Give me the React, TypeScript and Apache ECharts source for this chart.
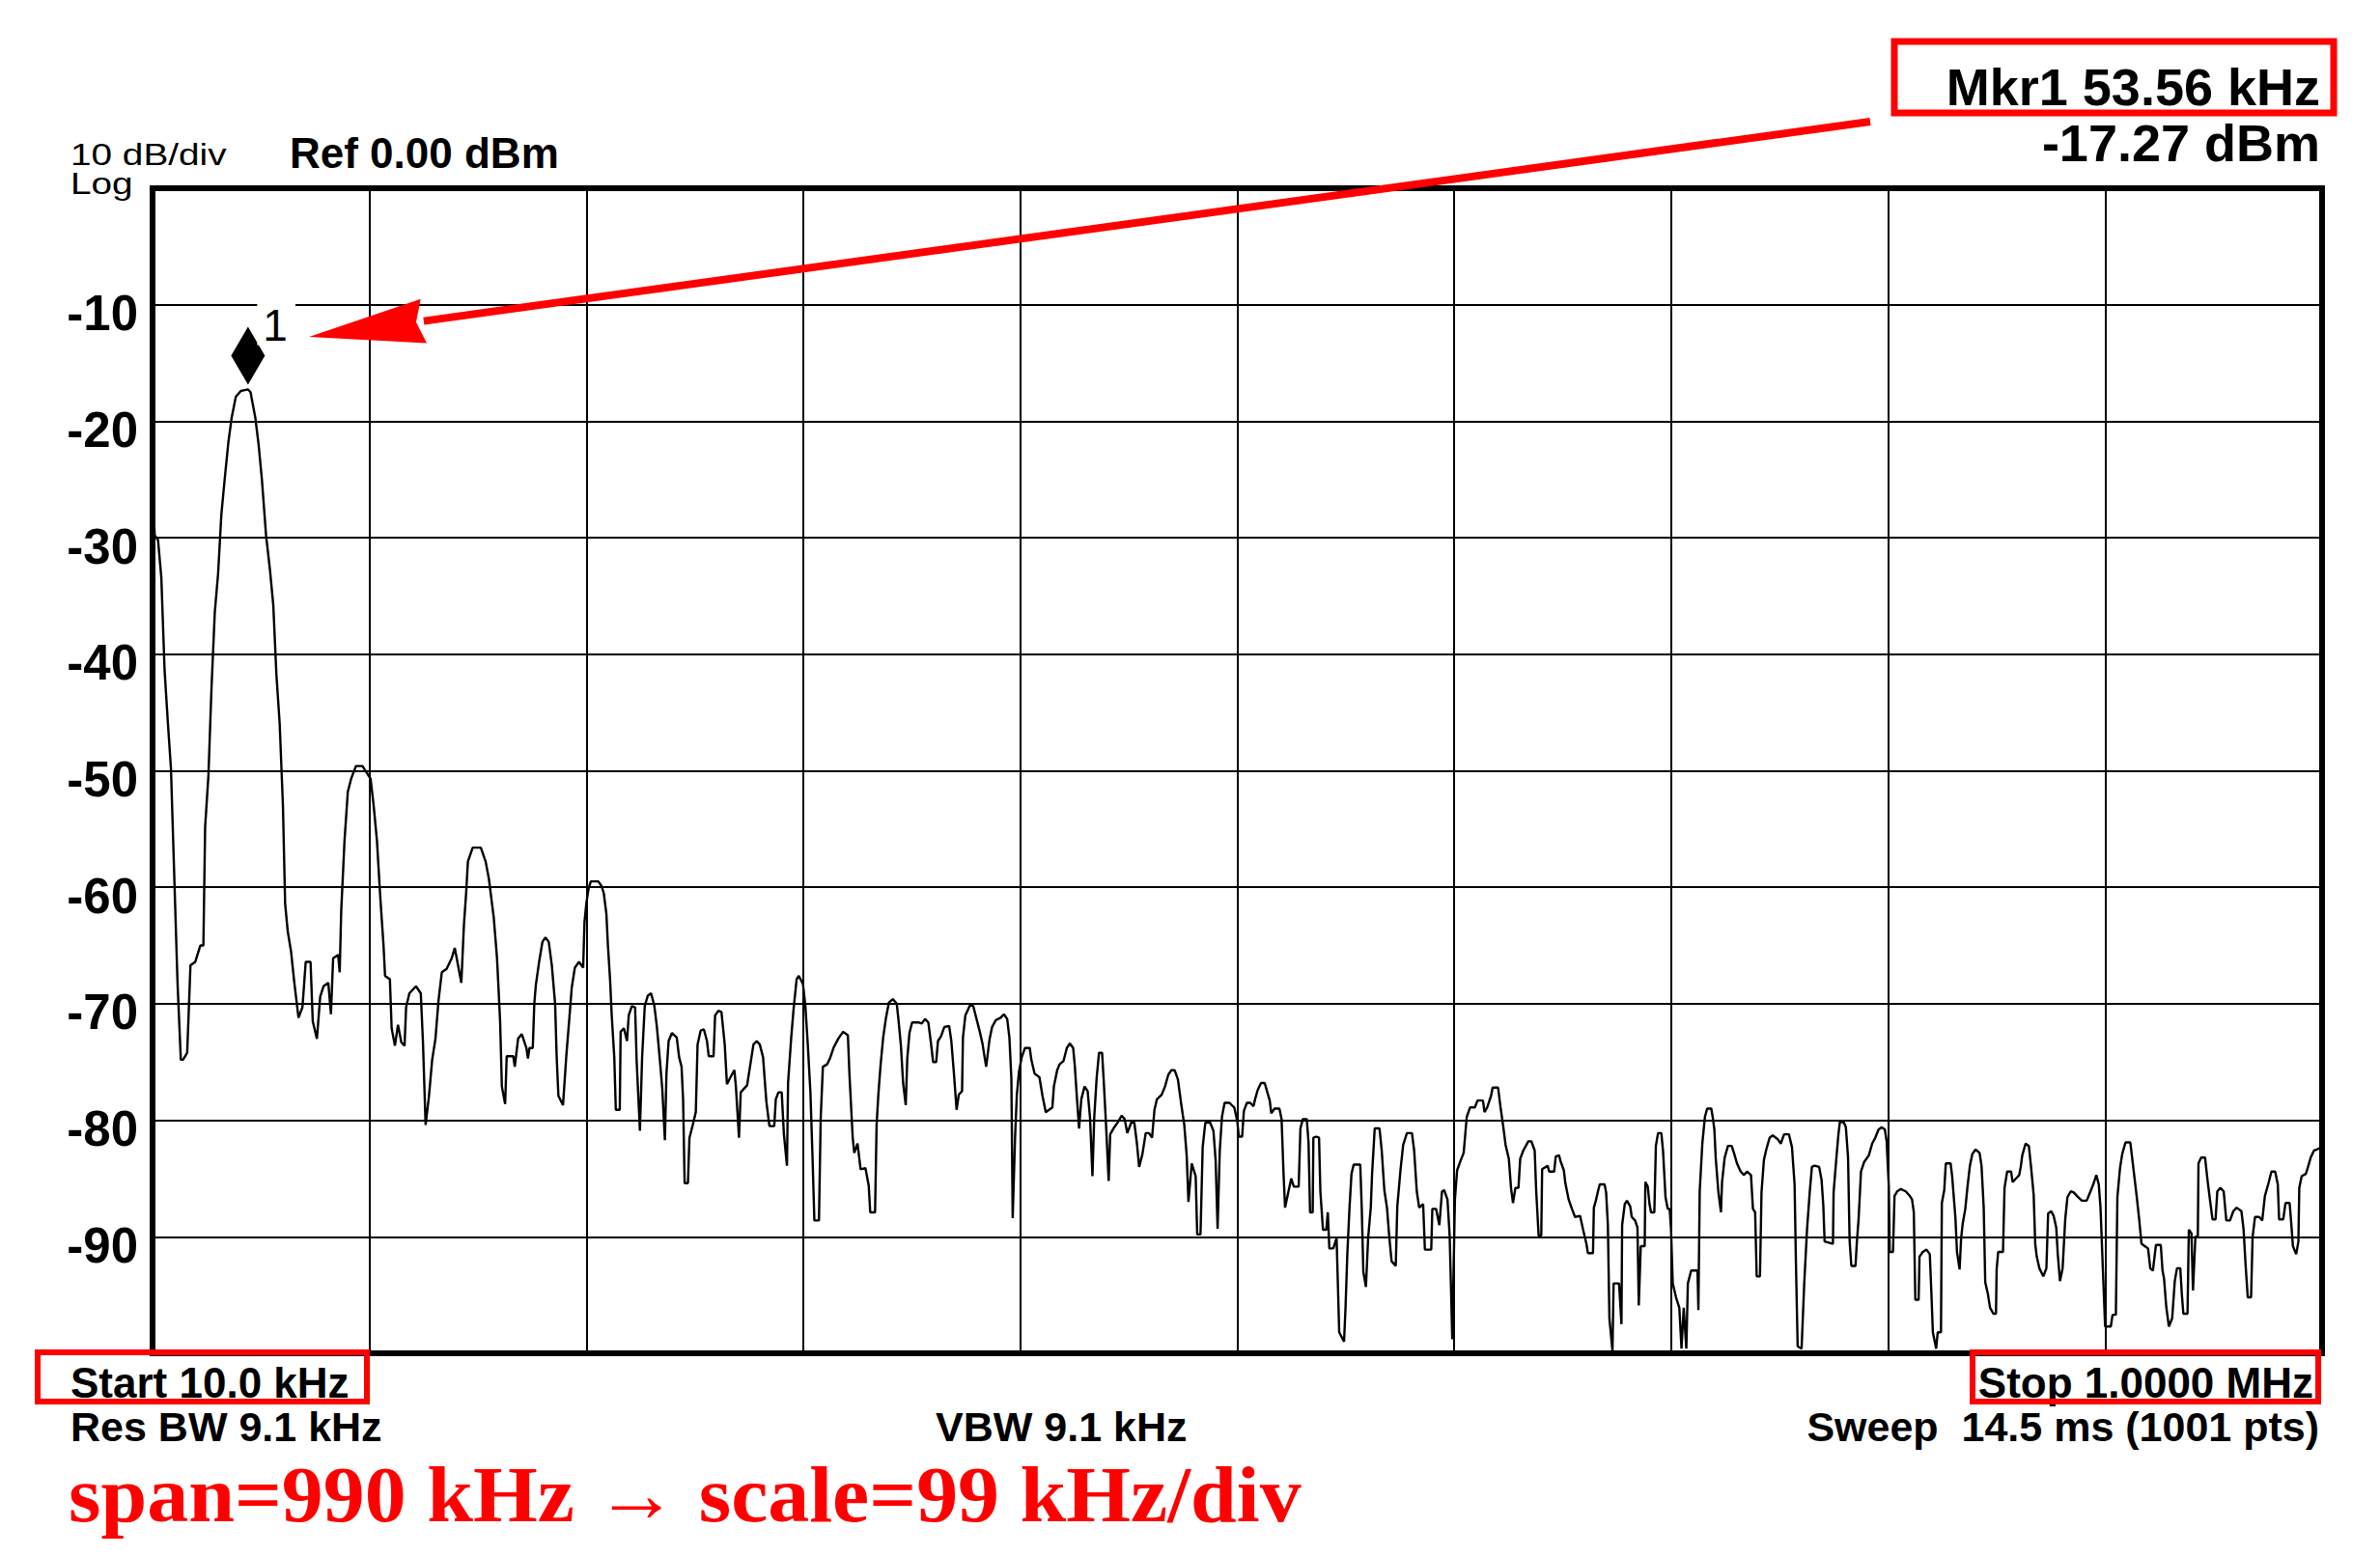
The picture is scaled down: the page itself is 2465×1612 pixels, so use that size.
import React, { useEffect, useRef } from "react";
import * as echarts from "echarts";

// ---- Axis setup ----
const startKHz = 10;
const stopKHz = 1000;
const kHzPerDiv = 99;
const refDbm = 0;
const dbPerDiv = 10;
const bottomDbm = -100;

// ---- Marker ----
const markerFreqKHz = 53.56;
const markerLevelDbm = -17.27;
const markerName = "1";

// ---- Texts ----
const scaleText = "10 dB/div";
const logText = "Log";
const refText = "Ref 0.00 dBm";
const mkrFreqText = "Mkr1 53.56 kHz";
const mkrLevelText = "-17.27 dBm";
const startText = "Start 10.0 kHz";
const stopText = "Stop 1.0000 MHz";
const rbwText = "Res BW 9.1 kHz";
const vbwText = "VBW 9.1 kHz";
const sweepText = "Sweep\u00a0 14.5 ms (1001 pts)";
const noteText = "span=990 kHz \u2192 scale=99 kHz/div";

// ---- Trace: [frequency kHz, level dBm] ----
const traceA: [number, number][] = [
  [10.0, -26.3], [11.0, -29.8], [12.5, -30.2], [14.0, -33.4], [15.5, -41.4], [17.0, -45.9], [18.4, -49.8],
  [19.9, -59.0], [21.4, -68.2], [22.9, -74.8], [23.9, -74.8], [25.8, -74.2], [27.3, -66.7], [29.5, -66.4],
  [31.8, -65.0], [33.2, -65.0], [34.0, -54.8], [35.5, -50.4], [36.9, -42.9], [38.4, -36.4], [39.9, -33.1],
  [41.4, -28.0], [42.9, -25.0], [44.6, -21.8], [46.1, -19.7], [48.0, -17.9], [50.3, -17.4], [53.56, -17.27],
  [54.7, -17.5], [56.9, -19.7], [58.4, -22.0], [59.9, -25.0], [61.8, -29.8], [63.6, -32.8], [65.1, -35.8],
  [66.5, -41.7], [68.0, -45.9], [69.5, -53.0], [70.5, -61.4], [71.7, -63.8], [73.2, -65.5], [74.7, -68.2],
  [76.6, -71.2], [78.4, -70.3], [79.9, -66.4], [82.1, -66.4], [83.1, -71.5], [85.0, -73.0], [86.5, -69.4],
  [88.0, -68.5], [90.2, -68.2], [91.4, -70.9], [92.4, -66.1], [94.7, -65.8], [95.4, -67.3], [96.1, -62.0],
  [97.6, -56.0], [99.1, -51.8], [100.6, -50.7], [102.8, -49.6], [105.8, -49.6], [109.5, -50.7], [110.9, -53.0],
  [112.4, -56.0], [113.9, -60.8], [115.4, -65.0], [116.1, -67.6], [118.3, -67.9], [119.1, -72.1], [120.6, -73.6],
  [122.0, -71.8], [123.5, -73.3], [125.0, -73.6], [125.7, -70.3], [127.2, -69.1], [130.2, -68.5], [132.4, -69.1],
  [133.4, -73.3], [134.6, -80.4], [136.1, -78.0], [137.6, -74.8], [139.1, -73.0], [140.5, -69.7], [142.0, -67.3],
  [144.2, -67.0], [146.5, -66.1], [147.9, -65.2], [149.4, -66.7], [150.9, -68.2], [152.1, -63.2], [153.1, -60.5],
  [153.9, -57.8], [156.1, -56.6], [159.8, -56.6], [162.0, -57.8], [163.5, -59.3], [165.7, -62.6], [167.2, -66.1],
  [168.6, -71.5], [169.4, -77.1], [170.9, -78.6], [171.6, -74.5], [174.6, -74.5], [175.3, -75.4], [176.8, -73.0],
];
const traceB: [number, number][] = [
  [178.5, -72.6], [180.6, -73.8], [181.3, -74.7], [182.0, -73.8], [183.5, -73.8], [184.2, -70.0], [184.9, -68.4],
  [186.4, -66.4], [187.9, -64.7], [189.3, -64.3], [190.8, -64.7], [192.2, -66.7], [193.7, -70.0], [194.4, -74.5],
  [195.2, -77.9], [197.3, -78.7], [198.8, -74.5], [200.3, -71.0], [201.3, -68.6], [202.7, -66.9], [204.6, -66.4],
  [206.5, -66.9], [207.1, -63.0], [208.0, -61.3], [209.0, -60.1], [210.0, -59.5], [213.4, -59.5], [214.9, -59.9],
  [215.9, -60.5], [217.1, -62.3], [217.8, -65.0], [218.8, -68.0], [219.5, -70.9], [220.7, -74.6], [221.4, -79.1],
  [223.2, -79.1], [223.6, -72.4], [225.1, -72.1], [226.5, -73.2], [227.3, -71.0], [228.7, -70.2], [230.2, -70.3],
  [230.9, -74.9], [232.4, -80.9], [233.4, -74.6], [234.6, -70.2], [236.0, -69.3], [237.5, -69.1], [239.0, -70.2],
  [240.1, -71.9], [241.4, -74.6], [242.6, -77.3], [243.8, -81.7], [244.5, -76.0], [245.5, -73.2], [247.0, -72.5],
  [249.2, -72.9], [250.3, -74.6], [251.4, -75.4], [252.1, -78.2], [252.8, -85.4], [254.3, -85.4], [255.0, -81.5],
  [256.5, -80.4], [257.9, -79.3], [258.7, -73.5], [260.1, -72.3], [261.6, -72.2], [263.0, -73.2], [263.8, -74.5],
  [266.0, -74.5], [266.7, -71.0], [268.2, -70.6], [269.6, -70.7], [271.1, -73.5], [272.1, -76.9], [274.0, -76.2],
  [275.5, -75.7], [276.2, -77.1], [277.6, -81.5], [278.4, -77.6], [281.3, -77.0], [282.8, -75.2], [284.2, -73.5],
  [285.7, -73.2], [287.1, -73.5], [288.6, -74.6], [290.1, -78.4], [291.5, -80.5], [293.7, -80.5], [294.4, -78.2],
  [295.6, -77.6], [297.1, -77.6], [298.1, -81.2], [299.5, -83.9], [300.0, -76.8], [301.4, -73.0], [302.5, -70.5],
  [303.9, -67.9], [304.9, -67.6], [306.8, -68.3], [307.9, -70.2], [309.0, -73.5], [310.2, -77.6], [311.2, -83.4],
  [312.0, -88.6], [314.1, -88.6], [314.9, -79.8], [315.9, -75.4], [317.8, -75.2], [319.3, -74.6], [320.7, -73.8],
  [322.9, -73.0], [325.1, -72.4], [327.3, -72.7], [328.0, -76.0], [329.5, -81.5], [330.2, -82.8], [331.7, -82.0],
  [333.1, -84.2], [335.3, -84.1], [336.8, -85.6], [337.5, -87.9], [339.7, -87.9], [340.4, -80.4],
];
const traceC: [number, number][] = [
  [341.2, -77.8], [342.2, -75.3], [343.4, -72.9], [344.6, -71.3], [346.0, -69.9], [347.8, -69.6], [349.6, -70.0],
  [350.4, -71.4], [351.5, -73.6], [352.5, -76.8], [353.7, -78.7], [354.4, -74.7], [355.4, -72.5], [356.6, -71.6],
  [359.5, -71.6], [361.0, -71.7], [362.5, -71.3], [364.0, -71.6], [365.1, -73.2], [366.2, -75.0], [367.6, -75.0],
  [368.4, -73.2], [369.8, -72.8], [371.3, -72.0], [373.5, -71.9], [374.5, -73.2], [375.7, -76.0], [376.9, -79.1],
  [377.9, -77.8], [379.4, -77.5], [379.8, -72.9], [380.9, -71.0], [383.1, -70.1], [384.5, -70.2], [386.0, -71.3],
  [387.5, -72.4], [388.7, -73.4], [389.7, -74.6], [390.4, -75.4], [391.9, -73.1], [393.1, -72.0], [394.8, -71.4],
  [397.0, -71.2], [398.5, -70.9], [400.0, -71.3], [401.0, -72.9], [401.9, -76.4], [402.5, -88.4], [403.6, -81.4],
  [404.4, -77.8], [405.4, -75.8], [406.6, -74.6], [408.1, -73.8], [410.3, -73.8], [411.0, -74.8], [412.5, -76.0],
  [414.7, -76.3], [416.1, -77.9], [417.6, -79.3], [420.6, -78.9], [421.3, -77.1], [422.8, -75.7], [423.9, -75.2],
  [425.7, -74.9], [427.2, -73.8], [428.6, -73.4], [430.1, -73.8], [430.8, -75.2], [431.9, -78.3], [432.8, -80.7],
  [433.8, -78.2], [435.3, -77.1], [436.7, -77.5], [437.8, -79.8], [438.9, -84.8], [439.7, -79.8], [440.8, -76.4],
  [441.9, -74.2], [443.3, -74.2], [444.1, -76.8], [445.1, -80.4], [446.3, -85.2], [447.0, -81.2], [448.5, -80.7],
  [450.7, -80.1], [452.2, -79.6], [453.6, -79.9], [454.8, -81.1], [456.6, -80.2], [458.0, -80.2], [459.2, -82.0],
  [460.2, -84.0], [461.7, -82.9], [463.2, -81.1], [464.7, -81.1], [466.1, -81.5], [467.2, -79.1], [468.3, -78.2],
  [470.5, -77.8], [472.0, -77.1], [473.5, -76.1], [474.9, -75.7], [476.4, -75.7], [477.9, -76.5], [479.4, -78.6],
  [480.8, -80.4], [481.9, -83.0], [482.7, -87.0], [484.2, -83.7], [486.0, -84.8], [486.7, -89.8], [488.2, -89.8],
  [489.2, -82.3], [490.4, -80.2], [492.6, -80.2], [494.1, -80.9], [495.1, -83.4], [496.0, -89.3], [497.0, -82.6],
  [498.0, -79.7], [499.2, -78.5], [501.4, -78.5], [503.6, -78.9],
];
const traceD: [number, number][] = [
  [505.0, -80.1], [505.7, -81.4], [507.2, -81.4], [508.0, -79.2], [509.4, -78.5], [510.9, -78.5], [512.4, -78.8],
  [513.1, -78.2], [514.3, -77.4], [515.8, -76.8], [517.5, -76.8], [518.7, -77.6], [519.8, -78.3], [520.5, -79.4],
  [522.0, -79.0], [524.2, -79.0], [525.2, -79.9], [526.1, -84.6], [526.8, -87.5], [527.9, -86.5], [529.6, -85.0],
  [530.8, -85.7], [533.0, -85.7], [533.8, -80.7], [534.9, -79.9], [536.7, -79.9], [537.5, -81.9], [538.2, -87.9],
  [539.4, -87.9], [539.7, -81.5], [541.1, -81.4], [542.3, -81.5], [542.9, -86.1], [544.1, -89.4], [545.6, -89.4],
  [546.3, -87.9], [547.0, -91.0], [548.8, -91.0], [550.3, -90.1], [551.5, -98.2], [553.7, -99.0], [554.4, -96.0],
  [555.2, -91.5], [556.2, -87.5], [557.1, -84.6], [558.1, -83.8], [561.1, -83.8], [561.8, -87.6], [562.5, -93.0],
  [563.7, -94.3], [564.7, -90.1], [565.9, -87.5], [566.5, -84.6], [567.7, -80.7], [569.9, -80.7], [570.9, -82.6],
  [572.1, -86.0], [573.3, -87.5], [574.3, -89.9], [575.4, -92.1], [577.3, -92.5], [578.0, -87.4], [579.5, -84.2],
  [580.7, -82.1], [582.4, -81.1], [584.7, -81.1], [585.7, -82.6], [586.9, -86.1], [588.0, -87.5], [589.8, -87.2],
  [590.6, -91.1], [593.5, -91.1], [594.0, -87.6], [595.7, -87.6], [597.2, -89.0], [598.4, -86.1], [599.4, -86.0],
  [600.9, -86.8], [601.9, -89.9], [603.1, -98.8], [604.3, -86.8], [605.3, -84.3], [606.8, -83.5], [608.3, -82.8],
  [609.7, -79.7], [611.2, -78.9], [613.4, -78.9], [614.6, -78.3], [617.1, -78.3], [617.8, -79.3], [619.0, -78.9],
  [620.8, -77.9], [621.5, -77.2], [624.0, -77.2], [625.2, -79.0], [626.4, -80.6], [627.4, -82.1], [628.9, -83.3],
  [629.9, -85.8], [630.8, -87.1], [631.9, -85.8], [633.3, -85.8], [634.1, -83.3], [635.5, -82.6], [637.8, -81.8],
  [639.2, -81.8], [640.7, -82.6], [641.4, -86.1], [642.5, -89.9], [643.7, -89.9], [644.1, -84.2], [646.6, -83.9],
  [647.3, -84.4], [649.6, -84.4], [650.3, -83.1], [651.8, -83.0], [652.5, -83.5], [654.0, -84.3], [654.7, -85.4],
  [656.2, -86.8], [657.7, -87.6], [659.1, -88.3], [661.4, -88.2], [662.8, -89.4], [664.3, -90.6], [665.0, -91.4],
  [667.3, -91.4], [667.7, -87.5],
];
const traceE: [number, number][] = [
  [668.6, -86.9], [669.7, -86.0], [670.4, -85.5], [672.6, -85.5], [673.3, -86.2], [674.1, -89.0], [674.8, -97.0],
  [676.2, -99.8], [676.7, -94.0], [679.2, -94.0], [680.3, -97.5], [680.6, -89.0], [681.8, -87.2], [682.8, -86.9],
  [684.3, -87.4], [685.0, -88.3], [686.5, -88.6], [687.6, -89.2], [688.2, -95.9], [689.1, -90.8], [690.9, -90.8],
  [691.2, -85.3], [692.3, -85.7], [693.1, -87.2], [693.8, -87.9], [695.3, -87.9], [696.0, -82.2], [697.0, -81.1],
  [698.5, -81.1], [699.3, -82.7], [700.4, -86.6], [701.4, -87.6], [702.3, -87.6], [702.9, -89.3], [703.7, -94.0],
  [705.2, -95.2], [706.7, -96.1], [707.7, -99.6], [708.7, -96.1], [709.9, -99.6], [710.6, -94.0], [712.1, -92.9],
  [715.0, -92.9], [715.4, -96.3], [716.0, -86.1], [717.2, -82.0], [718.4, -79.7], [719.4, -79.0], [721.3, -79.0],
  [722.0, -79.8], [722.7, -80.8], [723.3, -83.2], [724.5, -86.1], [725.7, -87.9], [726.2, -85.3], [727.4, -83.2],
  [728.9, -82.2], [730.6, -82.2], [731.8, -82.9], [733.0, -83.7], [734.7, -84.4], [736.2, -84.7], [737.6, -84.4],
  [739.4, -84.7], [740.3, -87.6], [741.3, -87.9], [742.0, -93.4], [743.5, -93.4], [744.2, -86.2], [745.3, -83.4],
  [746.4, -82.5], [747.9, -81.5], [749.3, -81.3], [751.5, -81.6], [753.0, -82.0], [754.5, -81.2], [756.7, -81.2],
  [758.1, -82.3], [759.3, -85.5], [759.9, -92.1], [760.7, -99.4], [762.5, -99.6], [763.7, -94.0], [765.0, -89.3],
  [766.2, -86.2], [767.2, -84.0], [768.4, -83.9], [770.5, -84.0], [771.6, -85.1], [772.4, -87.3], [773.0, -90.4],
  [776.8, -90.6], [777.1, -86.2], [778.3, -83.4], [779.3, -81.2], [780.0, -80.1], [781.8, -80.2], [782.7, -80.6],
  [783.7, -83.2], [784.4, -90.3], [785.2, -92.5], [787.1, -92.5], [787.7, -90.5], [788.5, -88.5], [789.6, -84.4],
  [791.0, -83.6], [793.2, -83.0], [794.7, -82.0], [796.1, -81.5], [797.6, -80.8], [799.1, -80.6], [800.5, -80.8],
  [801.3, -81.8], [802.3, -85.7], [802.7, -91.3], [804.2, -91.3], [804.9, -86.5], [806.1, -86.1], [807.8, -85.9],
  [810.0, -86.1], [811.9, -86.5], [812.9, -86.8], [813.7, -87.9], [814.4, -95.4], [815.9, -95.4], [816.3, -91.7],
  [817.8, -91.3], [819.5, -91.1], [821.0, -91.5], [821.7, -94.7], [822.4, -98.2], [823.9, -99.6], [824.6, -98.2],
  [826.1, -98.2], [826.5, -87.1], [827.6, -86.0], [828.3, -83.7], [830.5, -83.7], [831.2, -84.8], [832.7, -88.4],
  [833.4, -91.3],
];
const traceF: [number, number][] = [
  [834.6, -92.8], [835.3, -90.1], [836.0, -88.9], [837.2, -87.6], [838.2, -85.7], [839.3, -83.9], [840.4, -82.9],
  [841.9, -82.5], [843.7, -82.8], [844.6, -83.9], [845.6, -87.5], [846.3, -93.9], [847.5, -94.9], [848.5, -96.1],
  [850.0, -96.6], [851.2, -96.6], [851.5, -92.8], [852.2, -91.3], [854.4, -91.3], [855.1, -85.8], [856.3, -84.4],
  [858.1, -84.4], [858.8, -85.3], [860.3, -85.0], [861.8, -84.7], [862.5, -84.0], [863.2, -83.0], [864.7, -82.0],
  [866.2, -82.2], [867.2, -84.0], [868.4, -86.4], [869.1, -90.6], [869.8, -91.7], [871.0, -92.7], [872.8, -93.4],
  [874.2, -92.7], [875.0, -88.0], [876.4, -87.8], [877.5, -88.2], [878.7, -89.2], [879.4, -91.5], [880.4, -93.8],
  [881.6, -92.7], [882.8, -88.5], [883.8, -86.6], [885.3, -86.1], [886.7, -86.2], [888.2, -86.5], [890.4, -86.9],
  [892.6, -86.9], [894.1, -86.2], [895.6, -85.5], [897.0, -84.7], [898.1, -85.5], [898.9, -87.5], [900.0, -92.9],
  [901.0, -97.7], [903.6, -97.7], [904.4, -96.7], [905.9, -96.7], [906.6, -86.6], [907.8, -84.1], [908.8, -82.9],
  [910.3, -81.9], [912.5, -81.9], [913.2, -83.0], [914.2, -84.6], [915.4, -86.5], [916.6, -88.6], [917.6, -90.6],
  [919.1, -90.8], [920.6, -91.0], [921.6, -92.7], [922.8, -92.9], [924.2, -90.7], [926.4, -90.7], [927.2, -92.9],
  [927.9, -93.6], [928.9, -96.0], [930.1, -97.7], [931.6, -97.0], [932.8, -93.8], [933.8, -92.7], [935.3, -92.7],
  [936.0, -94.9], [936.7, -96.6], [938.6, -96.6], [939.2, -89.4], [940.4, -89.7], [941.1, -94.6], [942.2, -90.0],
  [943.3, -90.0], [943.6, -83.7], [944.8, -83.2], [946.6, -83.2], [947.7, -85.1], [948.9, -86.9], [950.0, -88.5],
  [951.4, -88.5], [952.2, -86.1], [953.6, -85.8], [955.1, -86.1], [956.3, -88.6], [958.0, -88.6], [959.5, -87.8],
  [961.0, -87.5], [963.2, -87.8], [964.2, -89.4], [965.1, -92.4], [966.1, -95.2], [967.6, -95.2], [968.3, -90.0],
  [969.4, -88.3], [971.3, -88.3], [972.7, -88.6], [973.9, -86.5], [975.4, -85.5], [976.9, -84.4], [978.6, -84.4],
  [979.8, -85.5], [980.4, -88.5], [982.3, -88.5], [983.3, -87.1], [985.2, -87.1], [986.0, -89.0], [986.7, -90.8],
  [988.2, -91.5], [989.2, -90.4], [989.6, -85.8], [990.7, -84.8], [992.6, -84.6], [993.6, -84.0], [994.8, -83.2],
  [996.3, -82.6], [997.7, -82.5], [1000.0, -82.3],
];

const SANS = '"Liberation Sans", Arial, Helvetica, sans-serif';
const SERIF = '"Liberation Serif", "Times New Roman", serif';
const RED = "#ff0000";

function txt(
  text: string,
  x: number,
  y: number,
  size: number,
  weight: string,
  align: string,
  color = "#000",
  family = SANS,
  scaleX = 1
) {
  return {
    type: "text",
    x,
    y,
    scaleX,
    z: 100,
    silent: true,
    style: {
      text,
      x: 0,
      y: 0,
      fill: color,
      font: `${weight} ${size}px ${family}`,
      lineHeight: Math.round(size * 0.75),
      align,
      verticalAlign: "middle",
      textAlign: align,
      textVerticalAlign: "middle",
    },
  };
}

function redRect(x: number, y: number, w: number, h: number, lw: number) {
  return {
    type: "rect",
    z: 100,
    silent: true,
    shape: { x, y, width: w, height: h },
    style: { fill: "none", stroke: RED, lineWidth: lw },
  };
}

export default function App() {
  const ref = useRef<HTMLDivElement>(null);

  useEffect(() => {
    document.body.style.margin = "0";
    document.body.style.overflow = "hidden";
    if (!ref.current) return;
    const chart = echarts.init(ref.current, undefined, { renderer: "svg" });
    const trace = [...traceA, ...traceB, ...traceC, ...traceD, ...traceE, ...traceF];

    // arrow geometry
    const tail = [1937, 126];
    const tip = [320, 349];
    const dx = tail[0] - tip[0];
    const dy = tail[1] - tip[1];
    const len = Math.sqrt(dx * dx + dy * dy);
    const ux = dx / len;
    const uy = dy / len;
    const headLen = 120;
    const headHalf = 23;
    const bx = tip[0] + ux * headLen;
    const by = tip[1] + uy * headLen;
    const nx = -uy;
    const ny = ux;

    chart.setOption({
      animation: false,
      backgroundColor: "#fff",
      grid: {
        left: 158,
        right: 60,
        top: 195,
        bottom: 210,
        show: true,
        borderColor: "#000",
        borderWidth: 6,
        backgroundColor: "transparent",
      },
      xAxis: [
        {
          type: "value",
          min: startKHz,
          max: stopKHz,
          show: false,
          splitLine: { show: false },
        },
        {
          type: "value",
          position: "top",
          min: 0,
          max: stopKHz - startKHz,
          interval: kHzPerDiv,
          axisLine: { show: false },
          axisTick: { show: false },
          axisLabel: { show: false },
          splitLine: { show: true, lineStyle: { color: "#000", width: 2 } },
        },
      ],
      yAxis: {
        type: "value",
        min: bottomDbm,
        max: refDbm,
        interval: dbPerDiv,
        axisLine: { show: false },
        axisTick: { show: false },
        splitLine: { show: true, lineStyle: { color: "#000", width: 2 } },
        axisLabel: {
          show: true,
          margin: 15,
          color: "#000",
          fontFamily: SANS,
          fontWeight: "bold",
          fontSize: 51,
          verticalAlign: "top",
          lineHeight: 18,
          formatter: (v: number) => (v === refDbm || v === bottomDbm ? "" : String(v)),
        },
      },
      series: [
        {
          type: "line",
          xAxisIndex: 0,
          yAxisIndex: 0,
          data: trace,
          showSymbol: false,
          symbol: "none",
          silent: true,
          z: 3,
          lineStyle: { color: "#000", width: 2.4 },
          markPoint: {
            silent: true,
            symbol: "diamond",
            symbolSize: [35, 60],
            symbolOffset: [0, -35],
            itemStyle: { color: "#000" },
            label: {
              show: true,
              formatter: markerName,
              position: [27, -34],
              align: "left",
              verticalAlign: "top",
              color: "#000",
              fontFamily: SANS,
              fontSize: 46,
              lineHeight: 40,
              backgroundColor: "#fff",
              padding: [13, 8, 0, 6],
            },
            data: [{ coord: [markerFreqKHz, markerLevelDbm] }],
          },
        },
      ],
      graphic: [
        txt(scaleText, 73, 160, 31, "normal", "left", "#000", SANS, 1.25),
        txt(logText, 73, 190, 31, "normal", "left", "#000", SANS, 1.25),
        txt(refText, 300, 158, 44, "bold", "left"),
        txt(mkrFreqText, 2403, 90, 54, "bold", "right"),
        txt(mkrLevelText, 2403, 148, 54, "bold", "right"),
        txt(startText, 73, 1432, 44, "bold", "left"),
        txt(stopText, 2396, 1432, 44, "bold", "right"),
        txt(rbwText, 73, 1478, 43, "bold", "left"),
        txt(vbwText, 969, 1478, 43, "bold", "left"),
        txt(sweepText, 2402, 1478, 43, "bold", "right"),
        txt(noteText, 71, 1548, 83, "bold", "left", RED, SERIF, 1.035),
        redRect(1962, 43, 455, 74, 7),
        redRect(39, 1401, 341, 51, 6),
        redRect(2043, 1401, 358, 51, 6),
        {
          type: "line",
          z: 100,
          silent: true,
          shape: { x1: tail[0], y1: tail[1], x2: bx, y2: by },
          style: { stroke: RED, lineWidth: 8 },
        },
        {
          type: "polygon",
          z: 101,
          silent: true,
          shape: {
            points: [
              [tip[0], tip[1]],
              [bx + nx * headHalf, by + ny * headHalf],
              [bx - ux * 8, by - uy * 8],
              [bx - nx * headHalf, by - ny * headHalf],
            ],
          },
          style: { fill: RED },
        },
      ],
    });
    return () => chart.dispose();
  }, []);

  return <div ref={ref} style={{ width: 2465, height: 1612, background: "#fff" }} />;
}
